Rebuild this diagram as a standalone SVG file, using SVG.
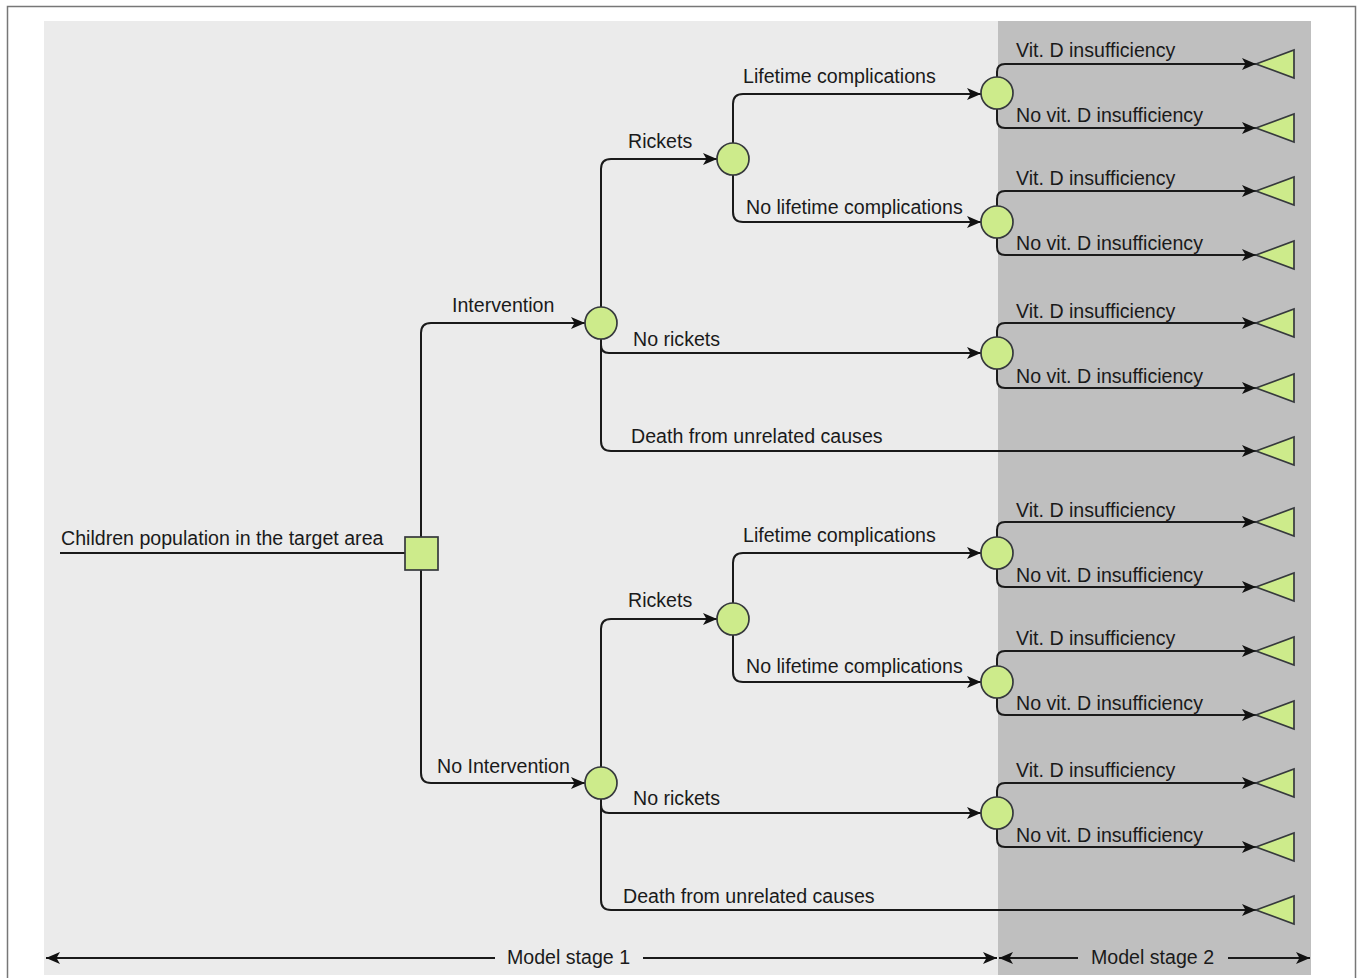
<svg xmlns="http://www.w3.org/2000/svg" width="1358" height="978" viewBox="0 0 1358 978">
<style>
.t{font-family:"Liberation Sans",Arial,sans-serif;font-size:19.6px;fill:#1a1a1a}
.c{fill:none;stroke:#1a1a1a;stroke-width:2}
.a{marker-end:url(#ah)}
.s{marker-start:url(#ah)}
.n{fill:#cdeb8b;stroke:#36393d;stroke-width:1.7}
</style>
<defs>
<marker id="ah" viewBox="0 0 14 12" refX="14" refY="6" markerWidth="14" markerHeight="12" markerUnits="userSpaceOnUse" orient="auto-start-reverse">
<path d="M0,0 L14,6 L0,12 L3.5,6 Z" fill="#111"/>
</marker>
</defs>
<rect x="0" y="0" width="1358" height="978" fill="#fff"/>
<rect x="7.5" y="6.5" width="1348" height="985" fill="none" stroke="#777" stroke-width="1.5"/>
<rect id="stage1-panel" x="44" y="21" width="954" height="954" fill="#ebebeb"/>
<rect id="stage2-panel" x="998" y="21" width="313" height="954" fill="#bfbfbf"/>

<g id="connectors">
<path class="c" d="M60,553 H405"/>
<path class="c a" d="M421,537 V333 Q421,323 431,323 H585"/>
<path class="c a" d="M421,570 V773 Q421,783 431,783 H585"/>
<path class="c a" d="M601,307 V169 Q601,159 611,159 H717"/>
<path class="c a" d="M601,339 V345 Q601,353 609,353 H981"/>
<path class="c a" d="M601,339 V441 Q601,451 611,451 H1256"/>
<path class="c a" d="M733,143 V104 Q733,94 743,94 H981"/>
<path class="c a" d="M733,175 V212 Q733,222 743,222 H981"/>
<path class="c a" d="M997,77 V72 Q997,64 1005,64 H1256"/>
<path class="c a" d="M997,109 V120 Q997,128 1005,128 H1256"/>
<path class="c a" d="M997,206 V199 Q997,191 1005,191 H1256"/>
<path class="c a" d="M997,238 V247 Q997,255 1005,255 H1256"/>
<path class="c a" d="M997,337 V331 Q997,323 1005,323 H1256"/>
<path class="c a" d="M997,369 V380 Q997,388 1005,388 H1256"/>
<path class="c a" d="M601,767 V629 Q601,619 611,619 H717"/>
<path class="c a" d="M601,799 V805 Q601,813 609,813 H981"/>
<path class="c a" d="M601,799 V900 Q601,910 611,910 H1256"/>
<path class="c a" d="M733,603 V563 Q733,553 743,553 H981"/>
<path class="c a" d="M733,635 V672 Q733,682 743,682 H981"/>
<path class="c a" d="M997,537 V530 Q997,522 1005,522 H1256"/>
<path class="c a" d="M997,569 V579 Q997,587 1005,587 H1256"/>
<path class="c a" d="M997,666 V659 Q997,651 1005,651 H1256"/>
<path class="c a" d="M997,698 V707 Q997,715 1005,715 H1256"/>
<path class="c a" d="M997,797 V791 Q997,783 1005,783 H1256"/>
<path class="c a" d="M997,829 V839 Q997,847 1005,847 H1256"/>
<path class="c s" d="M46,958 H495"/>
<path class="c a" d="M643,958 H997"/>
<path class="c s" d="M999,958 H1078"/>
<path class="c a" d="M1228,958 H1310"/>
</g>

<g id="labels">
<text class="t" x="61" y="545">Children population in the target area</text>
<text class="t" x="452" y="312">Intervention</text>
<text class="t" x="437" y="773">No Intervention</text>
<text class="t" x="628" y="148">Rickets</text>
<text class="t" x="633" y="346">No rickets</text>
<text class="t" x="631" y="443">Death from unrelated causes</text>
<text class="t" x="743" y="83">Lifetime complications</text>
<text class="t" x="746" y="214">No lifetime complications</text>
<text class="t" x="628" y="607">Rickets</text>
<text class="t" x="633" y="805">No rickets</text>
<text class="t" x="623" y="903">Death from unrelated causes</text>
<text class="t" x="743" y="542">Lifetime complications</text>
<text class="t" x="746" y="673">No lifetime complications</text>
<text class="t" x="1016" y="57">Vit. D insufficiency</text>
<text class="t" x="1016" y="122">No vit. D insufficiency</text>
<text class="t" x="1016" y="185">Vit. D insufficiency</text>
<text class="t" x="1016" y="250">No vit. D insufficiency</text>
<text class="t" x="1016" y="318">Vit. D insufficiency</text>
<text class="t" x="1016" y="383">No vit. D insufficiency</text>
<text class="t" x="1016" y="517">Vit. D insufficiency</text>
<text class="t" x="1016" y="582">No vit. D insufficiency</text>
<text class="t" x="1016" y="645">Vit. D insufficiency</text>
<text class="t" x="1016" y="710">No vit. D insufficiency</text>
<text class="t" x="1016" y="777">Vit. D insufficiency</text>
<text class="t" x="1016" y="842">No vit. D insufficiency</text>
<text class="t" x="507" y="964">Model stage 1</text>
<text class="t" x="1091" y="964">Model stage 2</text>
</g>

<g id="decision"><rect class="n" x="405" y="537" width="33" height="33"/></g>
<g id="chance-intervention"><circle class="n" cx="601" cy="323" r="16"/></g>
<g id="chance-rickets-1"><circle class="n" cx="733" cy="159" r="16"/></g>
<g id="chance-lifetime-1"><circle class="n" cx="997" cy="93" r="16"/></g>
<g id="chance-nolifetime-1"><circle class="n" cx="997" cy="222" r="16"/></g>
<g id="chance-norickets-1"><circle class="n" cx="997" cy="353" r="16"/></g>
<g id="chance-nointervention"><circle class="n" cx="601" cy="783" r="16"/></g>
<g id="chance-rickets-2"><circle class="n" cx="733" cy="619" r="16"/></g>
<g id="chance-lifetime-2"><circle class="n" cx="997" cy="553" r="16"/></g>
<g id="chance-nolifetime-2"><circle class="n" cx="997" cy="682" r="16"/></g>
<g id="chance-norickets-2"><circle class="n" cx="997" cy="813" r="16"/></g>

<g id="term-1"><polygon class="n" points="1256,64 1294,50 1294,78"/></g>
<g id="term-2"><polygon class="n" points="1256,128 1294,114 1294,142"/></g>
<g id="term-3"><polygon class="n" points="1256,191 1294,177 1294,205"/></g>
<g id="term-4"><polygon class="n" points="1256,255 1294,241 1294,269"/></g>
<g id="term-5"><polygon class="n" points="1256,323 1294,309 1294,337"/></g>
<g id="term-6"><polygon class="n" points="1256,388 1294,374 1294,402"/></g>
<g id="term-7"><polygon class="n" points="1256,451 1294,437 1294,465"/></g>
<g id="term-8"><polygon class="n" points="1256,522 1294,508 1294,536"/></g>
<g id="term-9"><polygon class="n" points="1256,587 1294,573 1294,601"/></g>
<g id="term-10"><polygon class="n" points="1256,651 1294,637 1294,665"/></g>
<g id="term-11"><polygon class="n" points="1256,715 1294,701 1294,729"/></g>
<g id="term-12"><polygon class="n" points="1256,783 1294,769 1294,797"/></g>
<g id="term-13"><polygon class="n" points="1256,847 1294,833 1294,861"/></g>
<g id="term-14"><polygon class="n" points="1256,910 1294,896 1294,924"/></g>
</svg>
